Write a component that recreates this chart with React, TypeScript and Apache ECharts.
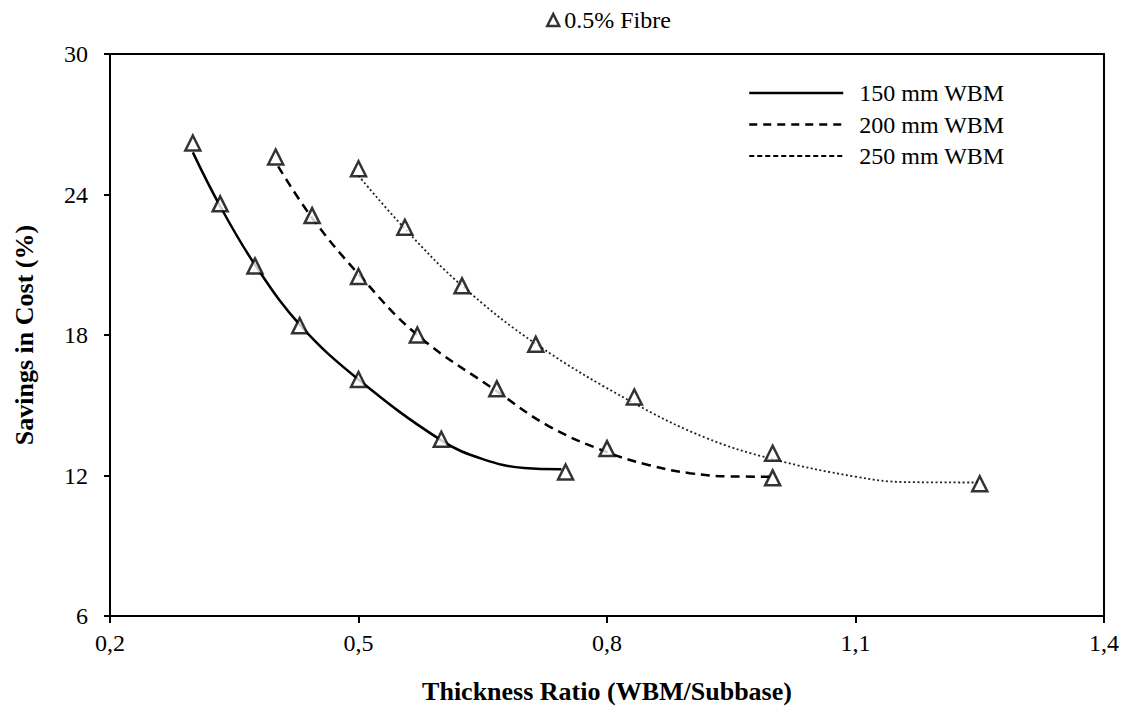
import React, { useEffect, useRef } from "react";
import * as echarts from "echarts";

// Measured points (marker positions)
const ratio150 = [0.3, 0.333, 0.375, 0.429, 0.5, 0.6, 0.75];
const savings150 = [26.2, 23.6, 20.95, 18.4, 16.1, 13.55, 12.15];
const ratio200 = [0.4, 0.444, 0.5, 0.571, 0.667, 0.8, 1.0];
const savings200 = [25.6, 23.1, 20.5, 18.0, 15.7, 13.15, 11.9];
const ratio250 = [0.5, 0.556, 0.625, 0.714, 0.833, 1.0, 1.25];
const savings250 = [25.1, 22.6, 20.1, 17.6, 15.35, 12.95, 11.65];

// Trend lines
const trendX150 = [0.3, 0.333, 0.375, 0.43, 0.5, 0.6, 0.65, 0.7, 0.745];
const trendY150 = [25.8, 23.5, 21.0, 18.4, 16.1, 13.5, 12.7, 12.32, 12.27];
const trendX200 = [0.403, 0.444, 0.5, 0.571, 0.667, 0.73, 0.8, 0.85, 0.9, 0.95, 1.0];
const trendY200 = [25.2, 23.0, 20.6, 18.0, 15.6, 14.1, 13.0, 12.45, 12.1, 11.96, 11.95];
const trendX250 = [0.5, 0.557, 0.625, 0.715, 0.832, 0.92, 1.0, 1.1, 1.16, 1.25];
const trendY250 = [24.8, 22.5, 20.1, 17.6, 15.1, 13.6, 12.7, 11.95, 11.72, 11.7];

const seriesNames = ["150 mm WBM", "200 mm WBM", "250 mm WBM"];
const markerName = "0.5% Fibre";
const xTicks = [0.2, 0.5, 0.8, 1.1, 1.4];
const yTicks = [6, 12, 18, 24, 30];

const FONT = "'Liberation Serif', 'Times New Roman', serif";

const zip = (xs: number[], ys: number[]) => xs.map((x, i) => [x, ys[i]]);

export default function App() {
  const ref = useRef<HTMLDivElement>(null);
  useEffect(() => {
    if (!ref.current) return;
    const chart = echarts.init(ref.current, null, { renderer: "svg" });
    const markers = [
      ...zip(ratio150, savings150),
      ...zip(ratio200, savings200),
      ...zip(ratio250, savings250),
    ];
    chart.setOption({
      animation: false,
      backgroundColor: "#ffffff",
      grid: {
        left: 110,
        right: 24,
        top: 54,
        bottom: 99,
        show: true,
        borderColor: "#000",
        borderWidth: 2,
      },
      legend: [
        {
          data: [{ name: markerName, icon: "triangle" }],
          left: 541,
          top: 3,
          itemWidth: 12,
          itemHeight: 12,
          itemStyle: { color: "#fff", borderColor: "#000", borderWidth: 2.5 },
          textStyle: { fontFamily: FONT, fontSize: 24, color: "#000", padding: [0, 0, 0, 0] },
        },
        {
          data: [
            { name: seriesNames[0], lineStyle: { type: "solid", width: 2.5, color: "#000" } },
            { name: seriesNames[1], lineStyle: { type: [8, 6], width: 2.5, color: "#000" } },
            { name: seriesNames[2], lineStyle: { type: [5, 3], width: 2, color: "#000" } },
          ],
          orient: "vertical",
          left: 743,
          top: 76,
          itemWidth: 94,
          itemHeight: 14,
          itemGap: 7.5,
          itemStyle: { opacity: 0 },
          textStyle: {
            fontFamily: FONT,
            fontSize: 24,
            color: "#000",
            lineHeight: 24,
            padding: [0, 0, 0, 11],
          },
        },
      ],
      xAxis: {
        type: "value",
        min: 0.2,
        max: 1.4,
        name: "Thickness Ratio (WBM/Subbase)",
        nameLocation: "middle",
        nameGap: 62,
        nameTextStyle: { fontFamily: FONT, fontSize: 26, fontWeight: "bold", color: "#000" },
        axisLine: { show: true, lineStyle: { color: "#000", width: 2 } },
        axisTick: { show: true, length: 7, lineStyle: { color: "#000", width: 2 }, customValues: xTicks },
        axisLabel: {
          customValues: xTicks,
          margin: 15,
          fontFamily: FONT,
          fontSize: 24,
          color: "#000",
          formatter: (v: number) => v.toFixed(1).replace(".", ","),
        },
        splitLine: { show: false },
      },
      yAxis: {
        type: "value",
        min: 6,
        max: 30,
        interval: 6,
        name: "Savings in Cost (%)",
        nameLocation: "middle",
        nameGap: 73,
        nameTextStyle: { fontFamily: FONT, fontSize: 26, fontWeight: "bold", color: "#000" },
        axisLine: { show: true, lineStyle: { color: "#000", width: 2 } },
        axisTick: { show: true, length: 6, lineStyle: { color: "#000", width: 2 }, customValues: yTicks },
        axisLabel: {
          customValues: yTicks,
          margin: 22,
          fontFamily: FONT,
          fontSize: 24,
          color: "#000",
        },
        splitLine: { show: false },
      },
      series: [
        {
          name: seriesNames[0],
          type: "line",
          data: zip(trendX150, trendY150),
          smooth: 0.4,
          symbol: "none",
          color: "#000",
          lineStyle: { color: "#000", width: 2.5, type: "solid" },
          z: 2,
        },
        {
          name: seriesNames[1],
          type: "line",
          data: zip(trendX200, trendY200),
          smooth: 0.4,
          symbol: "none",
          color: "#000",
          lineStyle: { color: "#000", width: 2.5, type: [9, 6] },
          z: 2,
        },
        {
          name: seriesNames[2],
          type: "line",
          data: zip(trendX250, trendY250),
          smooth: 0.4,
          symbol: "none",
          color: "#000",
          lineStyle: { color: "#222", width: 1.8, type: [2, 2.5] },
          z: 2,
        },
        {
          name: markerName,
          type: "scatter",
          data: markers,
          symbol: "triangle",
          symbolSize: 15,
          itemStyle: { color: "#fff", borderColor: "#000", borderWidth: 2.5 },
          z: 5,
        },
      ],
    });
    return () => chart.dispose();
  }, []);
  return (
    <div
      ref={ref}
      style={{ position: "absolute", left: 0, top: 0, width: 1128, height: 715 }}
    />
  );
}
